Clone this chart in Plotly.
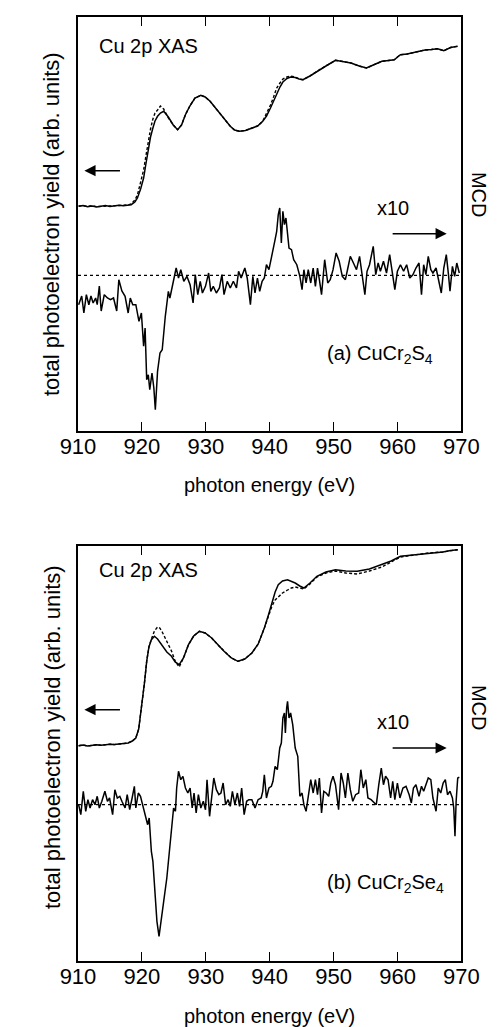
import plotly.graph_objects as go

# ---------------- data ----------------
# (a) CuCr2S4 : XAS (solid / dashed), arb. units
xas_a_E = [910.10, 910.80, 911.50, 912.20, 912.90, 913.60, 914.30, 915.00, 915.70, 916.40,
           917.10, 917.80, 918.32, 918.90, 919.30, 919.80, 920.27, 920.60, 921.00, 921.35,
           921.72, 922.05, 922.45, 922.90, 923.41, 923.80, 924.14, 924.90, 925.59, 926.20,
           926.81, 927.50, 928.30, 929.22, 929.90, 930.67, 931.50, 932.37, 933.10, 933.83,
           934.50, 935.28, 936.20, 937.21, 938.10, 938.91, 939.50, 940.12, 940.60, 941.09,
           941.60, 942.06, 942.70, 943.27, 944.00, 944.60, 945.20, 946.30, 947.38, 948.80,
           950.29, 951.50, 952.71, 954.00, 955.14, 956.20, 957.55, 958.60, 959.50, 960.00,
           960.46, 961.50, 962.40, 963.36, 964.30, 965.30, 966.27, 967.24, 968.30, 969.42]
xas_a_solid = [224.7, 225.5, 224.2, 225.0, 224.0, 224.8, 225.4, 224.6, 225.2, 225.8,
               225.3, 226.2, 226.3, 229.0, 233.0, 242.0, 253.0, 266.0, 283.0, 294.0,
               303.0, 310.0, 314.7, 318.0, 319.7, 317.0, 314.0, 306.0, 301.3, 306.0,
               316.3, 325.0, 333.0, 335.7, 334.0, 329.7, 323.0, 316.3, 310.0, 304.7,
               301.0, 299.7, 300.5, 303.0, 305.0, 309.7, 315.0, 323.0, 330.0, 338.0,
               344.0, 349.0, 352.5, 354.0, 353.5, 352.0, 351.3, 355.0, 359.7, 365.0,
               370.7, 369.5, 368.0, 365.0, 363.0, 366.0, 369.7, 370.5, 371.3, 374.0,
               376.3, 377.0, 378.5, 379.7, 381.0, 381.5, 382.3, 380.3, 383.5, 384.7]
xas_a_dash = [225.0, 225.2, 224.6, 225.3, 224.4, 224.6, 225.0, 225.0, 224.8, 225.5,
              225.6, 226.0, 227.0, 231.0, 236.0, 248.0, 261.0, 274.0, 290.0, 302.0,
              312.0, 318.0, 321.0, 325.0, 322.0, 317.0, 313.0, 306.0, 301.3, 306.0,
              316.3, 325.0, 333.0, 335.7, 334.0, 329.7, 323.0, 316.3, 310.0, 304.7,
              301.0, 299.7, 300.5, 303.0, 305.0, 309.7, 317.0, 326.0, 334.0, 343.0,
              348.0, 352.0, 354.0, 355.0, 354.0, 352.0, 351.3, 355.0, 359.7, 365.0,
              370.7, 369.5, 368.0, 365.0, 363.0, 366.0, 369.7, 370.5, 371.3, 374.0,
              376.3, 377.0, 378.5, 379.7, 381.0, 381.5, 382.3, 380.3, 383.5, 384.7]

# (a) MCD x10 (arb. units, 0 = dotted line)
mcd_a_E = [910.10, 910.58, 910.92, 911.31, 911.70, 912.03, 912.37, 912.76, 913.01, 913.34,
           913.63, 914.11, 914.61, 915.08, 915.56, 916.06, 916.39, 916.87, 917.37, 917.85,
           918.18, 918.57, 919.05, 919.54, 919.92, 920.27, 920.50, 920.75, 921.00, 921.23,
           921.58, 921.87, 922.10, 922.45, 922.83, 923.18, 923.66, 924.14, 924.38, 924.86,
           925.36, 925.73, 926.08, 926.56, 927.04, 927.54, 928.01, 928.35, 928.74, 929.13,
           929.47, 929.95, 930.44, 930.78, 931.17, 931.65, 932.13, 932.52, 932.85, 933.35,
           933.83, 934.31, 934.80, 935.13, 935.53, 936.11, 936.48, 936.98, 937.36, 937.70,
           938.08, 938.43, 938.81, 939.16, 939.49, 939.88, 940.26,
           940.51, 940.84, 941.09, 941.34, 941.57, 941.82, 942.06, 942.30, 942.54, 942.79,
           943.02, 943.41, 943.75, 944.24, 944.72, 945.06, 945.35, 945.69, 946.03, 946.42,
           946.80, 947.15, 947.48, 947.77, 948.11, 948.60, 949.08, 949.47, 949.91, 950.39,
           950.87, 951.36, 951.84, 952.23, 952.61, 953.10, 953.58, 954.06, 954.41, 954.89,
           955.23, 955.62, 956.20, 956.59, 956.97, 957.32, 957.80, 958.28, 958.77, 959.25,
           959.58, 959.98, 960.46, 960.95, 961.43, 961.91, 962.40, 962.88, 963.36, 963.75,
           964.09, 964.44, 964.81, 965.21, 965.54, 966.03, 966.51, 966.85, 967.24, 967.63,
           967.97, 968.21, 968.59, 968.94, 969.27, 969.67]
mcd_a = [-29.4, -20.7, -37.7, -19.4, -29.4, -20.7, -27.7, -22.7, -29.4, -10.7,
         -35.7, -19.4, -22.7, -24.4, -22.7, -35.7, -4.4, -15.7, -21.0, -37.7,
         -22.7, -29.4, -29.4, -46.0, -37.7, -71.0, -52.7, -104.4, -99.4, -114.4,
         -97.7, -112.7, -134.4, -96.0, -77.7, -74.4, -41.0, -16.0, -22.7, -6.0,
         7.3, -2.7, 5.6, -6.0, -1.0, -9.4, -27.7, 0.6, -19.4, -6.0,
         -17.7, -11.0, 2.3, -16.0, -11.0, -17.7, -12.7, 0.6, -19.4, -6.0,
         -12.7, -6.0, -12.7, 4.0, -2.7, 7.3, -2.7, -29.4, -1.0, -17.7,
         -2.7, -16.0, -6.0, -2.7, 10.6, 5.6, 19.0,
         24.0, 35.6, 44.0, 60.6, 67.3, 32.3, 64.0, 50.6, 57.3, 44.0,
         27.3, 25.6, 15.6, 10.6, -1.0, -14.4, 5.6, -7.7, 5.6, -7.7,
         7.3, -11.0, 7.3, -4.4, -19.4, 15.6, -7.7, -4.4, 5.6, 22.3,
         14.0, -1.0, -4.4, 7.3, 19.0, 12.3, 5.6, 19.0, 4.0, -19.4,
         4.0, 10.6, 29.0, 0.6, 12.3, 4.0, 14.0, 2.3, 20.6, 0.6,
         -14.4, 4.0, 10.6, 4.0, 10.6, -2.7, 0.6, 7.3, 12.3, -19.4,
         10.6, 0.6, 19.0, 5.6, 2.3, 7.3, -9.4, -17.7, 7.3, 20.6,
         0.6, -16.0, 9.0, -1.0, 12.3, 2.3]

# (b) CuCr2Se4 : XAS (solid / dashed)
xas_b_E = [910.10, 910.80, 911.50, 912.20, 912.90, 913.60, 914.30, 915.00, 915.70, 916.40,
           917.10, 917.85, 918.50, 919.05, 919.50, 920.02, 920.40, 920.75, 921.10, 921.48,
           921.96, 922.45, 922.80, 923.18, 923.90, 924.63, 925.20, 925.84, 926.50, 927.29,
           928.10, 928.99, 929.90, 930.92, 931.90, 932.85, 934.00, 935.03, 936.10, 937.21,
           938.20, 939.16, 939.80, 940.36, 940.85, 941.34, 942.00, 942.79, 943.40, 943.99,
           944.70, 945.35, 946.30, 947.38, 948.80, 950.29, 951.90, 953.69, 955.60, 957.55,
           959.00, 960.46, 962.60, 964.81, 967.10, 968.30, 969.42]
xas_b_solid = [215.3, 216.0, 215.0, 215.8, 216.2, 215.7, 216.5, 216.8, 216.4, 217.0,
               217.5, 218.0, 220.0, 223.0, 232.0, 256.3, 278.0, 299.7, 314.0, 321.3,
               324.7, 322.0, 319.0, 316.3, 309.0, 304.7, 299.0, 296.3, 303.0, 316.3,
               325.0, 329.7, 328.0, 323.0, 316.0, 309.7, 303.0, 299.7, 302.0, 308.0,
               317.0, 333.0, 346.0, 359.7, 369.0, 376.3, 380.0, 381.3, 380.0, 378.0,
               375.0, 373.0, 378.0, 384.7, 389.0, 391.3, 390.0, 389.7, 392.0, 396.3,
               400.0, 404.7, 406.0, 408.0, 409.0, 410.5, 411.3]
xas_b_dash = [215.3, 216.0, 215.0, 215.8, 216.2, 215.7, 216.5, 216.8, 216.4, 217.0,
              217.5, 218.0, 220.0, 223.0, 232.0, 256.3, 278.0, 299.7, 314.0, 322.0,
              330.0, 334.0, 333.0, 329.0, 320.0, 310.0, 300.0, 294.0, 303.0, 316.3,
              325.0, 329.7, 328.0, 323.0, 316.0, 309.7, 303.0, 299.7, 302.0, 308.0,
              317.0, 333.0, 344.0, 355.0, 361.0, 364.0, 368.0, 371.0, 373.0, 374.0,
              373.0, 372.0, 377.0, 384.0, 388.0, 390.0, 388.0, 387.0, 390.0, 394.0,
              399.0, 404.0, 406.0, 408.0, 409.0, 410.5, 411.3]

# (b) MCD x10
mcd_b_E = [910.10, 910.44, 910.83, 911.21, 911.55, 911.89, 912.28, 912.66, 913.01, 913.34,
           913.73, 914.21, 914.61, 914.94, 915.42, 915.77, 916.15, 916.54, 916.87, 917.37,
           917.70, 918.09, 918.47, 918.82, 919.05, 919.44, 919.78, 920.13, 920.50, 920.90,
           921.14, 921.48, 921.72, 922.06, 922.35, 922.68, 923.03, 923.41, 923.90, 924.28,
           924.63, 924.96, 925.25, 925.44, 925.73, 926.08, 926.42, 926.81, 927.19, 927.54,
           927.87, 928.16, 928.49, 928.84, 929.22, 929.61, 929.95, 930.19, 930.59, 930.92,
           931.25, 931.65, 932.04, 932.37, 932.71, 933.10, 933.49, 933.83, 934.16, 934.55,
           934.94, 935.28, 935.61, 936.00, 936.39, 936.73, 937.21, 937.70, 938.18, 938.66,
           938.91, 939.16, 939.49, 939.88, 940.26,
           940.51, 940.84, 941.19, 941.57, 941.82, 942.06, 942.30, 942.45, 942.65, 942.79,
           943.02, 943.27, 943.60, 943.99, 944.39, 944.72, 945.06, 945.35, 945.69, 946.03,
           946.42, 946.80, 947.15, 947.48, 947.77, 948.11, 948.46, 948.83, 949.23, 949.56,
           949.91, 950.29, 950.78, 951.16, 951.51, 951.84, 952.23, 952.61, 953.00, 953.44,
           953.92, 954.26, 954.64, 955.04, 955.37, 955.86, 956.34, 956.68, 957.07, 957.46,
           957.80, 958.13, 958.52, 958.92, 959.25, 959.58, 959.98, 960.37, 960.85, 961.33,
           961.82, 962.16, 962.49, 962.88, 963.36, 963.75, 964.09, 964.44, 964.81, 965.21,
           965.54, 966.03, 966.37, 966.76, 967.14, 967.48, 967.82, 968.21, 968.59, 968.80,
           968.99, 969.17, 969.42, 969.67]
mcd_b = [0.0, -10.0, 13.4, -6.6, 5.0, -3.3, 5.0, 0.0, 8.4, -3.3,
         3.4, 13.4, 3.4, 6.7, -10.0, 15.0, 6.7, 8.4, 3.4, -3.3,
         10.0, -5.0, 6.7, 18.4, -3.3, 11.7, 8.4, 0.0, -10.0, -20.0,
         -13.3, -46.6, -56.6, -90.0, -116.6, -131.6, -116.6, -96.6, -73.3, -50.0,
         -26.6, -3.3, -6.6, 16.7, 33.4, 25.0, 28.4, 16.7, 11.7, 16.7,
         -3.3, 11.7, -8.3, 10.0, -3.3, 3.4, -5.0, 25.0, -11.6, 8.4,
         26.7, 15.0, 10.0, 11.7, 21.7, 0.0, 5.0, -1.6, 13.4, 0.0,
         11.7, -1.6, 16.7, -10.0, 3.4, 5.0, 5.0, -3.3, 5.0, 6.7,
         13.4, 30.0, 6.7, 16.7, 18.4,
         23.4, 38.4, 35.0, 56.7, 61.7, 86.7, 91.7, 71.7, 96.7, 103.4,
         86.7, 91.7, 80.0, 56.7, 48.4, 8.4, 11.7, 0.0, -6.6, 6.7,
         25.0, 11.7, 25.0, 10.0, 26.7, -8.3, 13.4, 11.7, 8.4, 21.7,
         28.4, 20.0, -5.0, 31.7, 21.7, 6.7, 31.7, 15.0, 3.4, 10.0,
         11.7, 35.0, 16.7, 25.0, 6.7, 5.0, 1.7, 0.0, 20.0, 36.7,
         20.0, 28.4, 25.0, 6.7, 23.4, 5.0, 21.7, 6.7, 16.7, 18.4,
         10.0, 1.7, 16.7, 20.0, 8.4, 18.4, 13.4, 20.0, 26.7, 25.0,
         6.7, -6.6, 16.7, 11.7, 21.7, 25.0, 10.0, 13.4, 6.7, -3.3,
         -31.6, 3.4, 26.7, 27.4]

x_range = [910, 970]
x_ticks = [910, 920, 930, 940, 950, 960, 970]
zero_E = [910, 970]
zero_v = [0, 0]

# ---------------- figure ----------------
W, H = 503, 1027
FONT = "Liberation Sans, Arial, Helvetica, sans-serif"
BLK = "black"

def px(p):      # paper y from pixel row
    return 1 - p / H

xdom = [56 / W, 469 / W]
top_dom = [px(423), px(9)]
bot_dom = [px(953), px(538)]

fig = go.Figure()
line_solid = dict(color=BLK, width=1.5)
line_dash = dict(color=BLK, width=1.4, dash="3px,2px")
line_dot = dict(color=BLK, width=1.2, dash="dot")

# top panel
fig.add_trace(go.Scatter(x=xas_a_E, y=xas_a_dash, mode="lines", line=line_dash, xaxis="x", yaxis="y"))
fig.add_trace(go.Scatter(x=xas_a_E, y=xas_a_solid, mode="lines", line=line_solid, xaxis="x", yaxis="y"))
fig.add_trace(go.Scatter(x=zero_E, y=zero_v, mode="lines", line=line_dot, xaxis="x", yaxis="y2"))
fig.add_trace(go.Scatter(x=mcd_a_E, y=mcd_a, mode="lines", line=line_solid, xaxis="x", yaxis="y2"))
# bottom panel
fig.add_trace(go.Scatter(x=xas_b_E, y=xas_b_dash, mode="lines", line=line_dash, xaxis="x2", yaxis="y3"))
fig.add_trace(go.Scatter(x=xas_b_E, y=xas_b_solid, mode="lines", line=line_solid, xaxis="x2", yaxis="y3"))
fig.add_trace(go.Scatter(x=zero_E, y=zero_v, mode="lines", line=line_dot, xaxis="x2", yaxis="y4"))
fig.add_trace(go.Scatter(x=mcd_b_E, y=mcd_b, mode="lines", line=line_solid, xaxis="x2", yaxis="y4"))

xcommon = dict(range=x_range, domain=xdom, tickmode="array", tickvals=x_ticks,
               ticks="inside", ticklen=9, tickwidth=1.3, tickcolor=BLK,
               showline=True, linecolor=BLK, linewidth=1.5, mirror="ticks",
               showgrid=False, zeroline=False, ticklabelstandoff=-5,
               tickfont=dict(family=FONT, size=22, color=BLK))
ycommon = dict(showline=True, linecolor=BLK, linewidth=1.5, mirror=True,
               ticks="", showticklabels=False, showgrid=False, zeroline=False)

fig.update_layout(
    width=W, height=H, margin=dict(l=0, r=0, t=0, b=0),
    paper_bgcolor="white", plot_bgcolor="white", showlegend=False,
    font=dict(family=FONT, color=BLK),
    xaxis=dict(xcommon, anchor="y"),
    xaxis2=dict(xcommon, anchor="y3"),
    yaxis=dict(ycommon, domain=top_dom, range=[0, 414], anchor="x"),
    yaxis2=dict(domain=top_dom, range=[-155.7, 258.3], overlaying="y", side="right",
                anchor="x", visible=False),
    yaxis3=dict(ycommon, domain=bot_dom, range=[0, 415], anchor="x2"),
    yaxis4=dict(domain=bot_dom, range=[-156.3, 258.7], overlaying="y3", side="right",
                anchor="x2", visible=False),
)

ann = []
def text(x, y, s, xref, yref, size=20, xanchor="center", yanchor="middle", angle=0):
    ann.append(dict(x=x, y=y, text=s, xref=xref, yref=yref, showarrow=False,
                    xanchor=xanchor, yanchor=yanchor, textangle=angle,
                    yshift=7 if angle == 0 else 0,
                    font=dict(family=FONT, size=size, color=BLK)))

def arrow(x0, x1, y, xref, yref):
    ann.append(dict(x=x1, y=y, ax=x0, ay=y, xref=xref, yref=yref, axref=xref, ayref=yref,
                    text="", showarrow=True, arrowhead=2, arrowsize=1.4, arrowwidth=1.6,
                    arrowcolor=BLK))

for xr, yr, lbl, ylbl, ycen_px, xt_px, mcd_px in [
        ("x", "y", "(a) CuCr<sub>2</sub>S<sub>4</sub>", 70, 216, 484, 187),
        ("x2", "y3", "(b) CuCr<sub>2</sub>Se<sub>4</sub>", 71, 729, 1015, 700)]:
    text(912.9, 378 if yr == "y" else 384, "Cu 2p XAS", xr, yr, xanchor="left")
    text(948.6, ylbl, lbl, xr, yr, xanchor="left")
    text(959.3, 216 if yr == "y" else 232, "x10", xr, yr)
    arrow(916.8, 911.0, 260.3 if yr == "y" else 251.3, xr, yr)
    arrow(959.0, 967.7, 197.3 if yr == "y" else 213.0, xr, yr)
    text(28 / W, px(ycen_px), "total photoelectron yield (arb. units)", "paper", "paper",
         size=22, angle=-90)
    text(502 / W, px(mcd_px), "MCD", "paper", "paper", xanchor="right", angle=90)
    text(262.5 / W, px(xt_px), "photon energy (eV)", "paper", "paper")

fig.update_layout(annotations=ann)
fig.write_html("out.html")
